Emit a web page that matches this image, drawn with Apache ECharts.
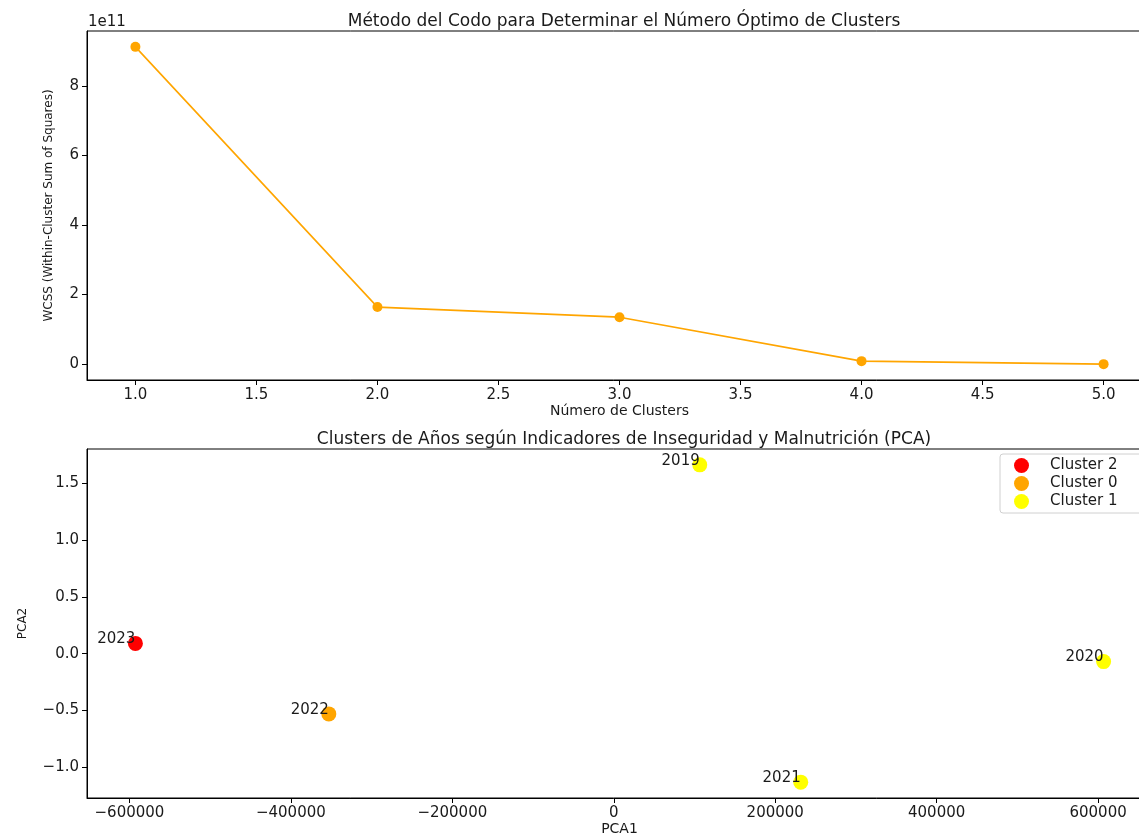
<!DOCTYPE html>
<html>
<head>
<meta charset="utf-8">
<script src="https://cdn.jsdelivr.net/npm/echarts@6/dist/echarts.min.js"></script>
<style>
html,body{margin:0;padding:0;background:#fff;}
#chart{width:1139px;height:833px;}
</style>
</head>
<body>
<div id="chart"></div>
<script>
// ---- Data ----
const kValues = [1, 2, 3, 4, 5];
const wcssValues = [9.12e11, 1.64e11, 1.35e11, 0.086e11, 0.0];
const wcssTicks = [0, 2e11, 4e11, 6e11, 8e11];
const kTicks = [1.0, 1.5, 2.0, 2.5, 3.0, 3.5, 4.0, 4.5, 5.0];

const years = ['2019', '2020', '2021', '2022', '2023'];
const pca1 = [106500, 606800, 231600, -353000, -592600];
const pca2 = [1.66, -0.07, -1.13, -0.53, 0.09];
const clusterOf = [1, 1, 1, 0, 2];
const clusterOrder = [2, 0, 1];
const clusterColors = {2: '#ff0000', 0: '#ffa500', 1: '#ffff00'};
const pca1Ticks = [-600000, -400000, -200000, 0, 200000, 400000, 600000];
const pca2Ticks = [-1.0, -0.5, 0.0, 0.5, 1.0, 1.5];

// ---- Chart ----
const FONT = 'DejaVu Sans';
const TXT = '#1a1a1a';
const minus = s => String(s).replace('-', '\u2212');

function pad(min, max, f) { const r = max - min; return [min - r * f, max + r * f]; }
const kRange = pad(Math.min(...kValues), Math.max(...kValues), 0.05);
const wRange = pad(Math.min(...wcssValues), Math.max(...wcssValues), 0.05);
const p1Range = pad(Math.min(...pca1), Math.max(...pca1), 0.05);
const p2Range = pad(Math.min(...pca2), Math.max(...pca2), 0.05);

const axisCommon = {
  axisLine: {show: true, onZero: false, lineStyle: {color: '#000', width: 1}},
  axisTick: {show: true, inside: false, length: 5, lineStyle: {color: '#000'}},
  splitLine: {show: false},
  axisLabel: {color: TXT, fontFamily: FONT, fontSize: 15, margin: 8}
};

function mkAxis(gridIndex, range, ticks, formatter, extra) {
  return Object.assign({
    type: 'value', gridIndex, min: range[0], max: range[1], scale: true
  }, axisCommon, {
    axisTick: Object.assign({}, axisCommon.axisTick, {customValues: ticks}),
    axisLabel: Object.assign({}, axisCommon.axisLabel, {customValues: ticks, formatter})
  }, extra || {});
}

const scatterSeries = clusterOrder.map(c => ({
  name: 'Cluster ' + c,
  type: 'scatter',
  xAxisIndex: 1,
  yAxisIndex: 1,
  symbol: 'circle',
  symbolSize: 15,
  itemStyle: {color: clusterColors[c], opacity: 1},
  label: {
    show: true,
    formatter: p => p.data[2],
    position: [7.5, 11],
    align: 'right',
    verticalAlign: 'bottom',
    color: TXT,
    fontFamily: FONT,
    fontSize: 15
  },
  data: years.map((y, i) => clusterOf[i] === c ? [pca1[i], pca2[i], y] : null).filter(d => d)
}));

const option = {
  animation: false,
  backgroundColor: '#fff',
  textStyle: {fontFamily: FONT},
  title: [
    {text: 'Método del Codo para Determinar el Número Óptimo de Clusters', left: 619, top: 8, textAlign: 'center',
     textStyle: {fontFamily: FONT, fontSize: 17, fontWeight: 'normal', color: TXT}},
    {text: 'Clusters de Años según Indicadores de Inseguridad y Malnutrición (PCA)', left: 619, top: 426, textAlign: 'center',
     textStyle: {fontFamily: FONT, fontSize: 17, fontWeight: 'normal', color: TXT}}
  ],
  graphic: [
    {type: 'text', left: 88, top: 15, style: {text: '1e11', fontFamily: FONT, fontSize: 15, fill: TXT}}
  ],
  legend: {
    show: true,
    orient: 'vertical',
    left: 1000,
    top: 454,
    data: clusterOrder.map(c => ({name: 'Cluster ' + c, icon: 'circle'})),
    itemWidth: 15,
    itemHeight: 15,
    itemGap: 3,
    padding: [4, 30, 4, 14],
    borderColor: '#d0d0d0',
    borderWidth: 1,
    borderRadius: 3,
    backgroundColor: 'rgba(255,255,255,0.8)',
    textStyle: {fontFamily: FONT, fontSize: 15, color: TXT, padding: [0, 0, 0, 16]}
  },
  grid: [
    {left: 87, top: 31, width: 1065, height: 349, show: true, borderColor: '#000', borderWidth: 1,
     containLabel: false, outerBoundsMode: 'none'},
    {left: 87, top: 449, width: 1065, height: 349, show: true, borderColor: '#000', borderWidth: 1,
     containLabel: false, outerBoundsMode: 'none'}
  ],
  xAxis: [
    mkAxis(0, kRange, kTicks, v => v.toFixed(1), {
      name: 'Número de Clusters', nameLocation: 'middle', nameGap: 24,
      nameTextStyle: {fontFamily: FONT, fontSize: 14, color: TXT}
    }),
    mkAxis(1, p1Range, pca1Ticks, v => minus(Math.round(v)), {
      name: 'PCA1', nameLocation: 'middle', nameGap: 23,
      nameTextStyle: {fontFamily: FONT, fontSize: 14, color: TXT}
    })
  ],
  yAxis: [
    mkAxis(0, wRange, wcssTicks, v => minus(Math.round(v / 1e11)), {
      name: 'WCSS (Within-Cluster Sum of Squares)', nameLocation: 'middle', nameGap: 32,
      nameTextStyle: {fontFamily: FONT, fontSize: 12, color: TXT}
    }),
    mkAxis(1, p2Range, pca2Ticks, v => minus(v.toFixed(1)), {
      name: 'PCA2', nameLocation: 'middle', nameGap: 58,
      nameTextStyle: {fontFamily: FONT, fontSize: 12, color: TXT}
    })
  ],
  series: [
    {
      type: 'line',
      xAxisIndex: 0,
      yAxisIndex: 0,
      data: kValues.map((k, i) => [k, wcssValues[i]]),
      symbol: 'circle',
      symbolSize: 10,
      showSymbol: true,
      lineStyle: {color: '#ffa500', width: 1.6},
      itemStyle: {color: '#ffa500', borderWidth: 0}
    }
  ].concat(scatterSeries)
};

const chart = echarts.init(document.getElementById('chart'), null, {renderer: 'canvas'});
chart.setOption(option);
</script>
</body>
</html>
